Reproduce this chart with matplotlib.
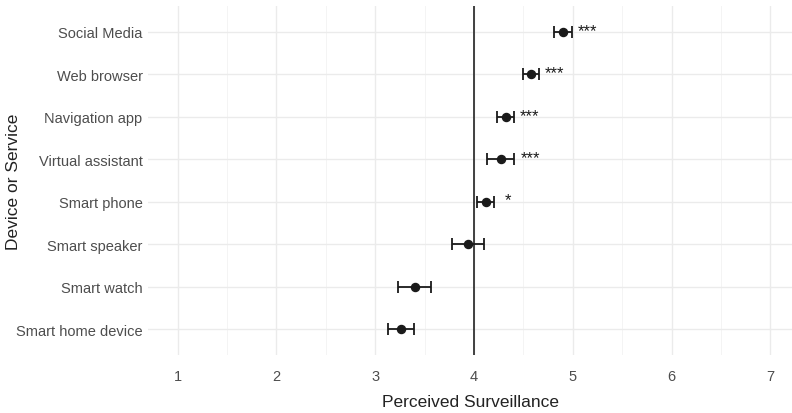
import numpy as np
import matplotlib.pyplot as plt
from matplotlib.ticker import MultipleLocator

plt.rcParams['font.family'] = ['Liberation Sans', 'DejaVu Sans']

# bottom to top
services = ["Smart home device", "Smart watch", "Smart speaker", "Smart phone",
            "Virtual assistant", "Navigation app", "Web browser", "Social Media"]
means = [3.26, 3.40, 3.94, 4.12, 4.27, 4.32, 4.58, 4.90]
ci = [0.135, 0.165, 0.16, 0.085, 0.14, 0.085, 0.08, 0.09]
stars = ["", "", "", "*", "***", "***", "***", "***"]
midpoint = 4

fig = plt.figure(figsize=(7.92, 4.14), dpi=100)
ax = fig.add_axes([0.187, 0.141, 0.813, 0.841])

y = np.arange(1, len(services) + 1)

ax.axvline(midpoint, color='#333333', linewidth=1.3, zorder=2)
ax.errorbar(means, y, xerr=ci, fmt='o', color='#1a1a1a', markersize=5.8,
            elinewidth=1.3, capsize=4, capthick=1.3, zorder=3)

for yi, m, c, s in zip(y, means, ci, stars):
    if s:
        off = 0.11 if s == "*" else 0.06
        ax.text(m + c + off, yi + 0.04, s, fontsize=12, color='#1a1a1a',
                ha='left', va='center')

ax.set_xlim(0.7, 7.22)
ax.set_ylim(0.4, 8.6)
ax.set_yticks(y)
ax.set_yticklabels(services)
ax.xaxis.set_major_locator(MultipleLocator(1))
ax.xaxis.set_minor_locator(MultipleLocator(0.5))
ax.set_xticks(range(1, 8))

ax.grid(True, which='major', color='#ebebeb', linewidth=1.0)
ax.grid(True, which='minor', axis='x', color='#f2f2f2', linewidth=0.6)
ax.set_axisbelow(True)

for sp in ax.spines.values():
    sp.set_visible(False)
ax.tick_params(which='both', length=0)
ax.tick_params(axis='both', labelsize=10.5, labelcolor='#4d4d4d')
ax.tick_params(axis='y', pad=4)
ax.tick_params(axis='x', pad=10)

ax.set_xlabel("Perceived Surveillance", fontsize=12.5, color='#222222')
ax.set_ylabel("Device or Service", fontsize=12.5, color='#222222')
ax.xaxis.set_label_coords(0.5, -0.113)
ax.yaxis.set_label_coords(-0.198, 0.5)

fig.savefig("out.png", dpi=100)
